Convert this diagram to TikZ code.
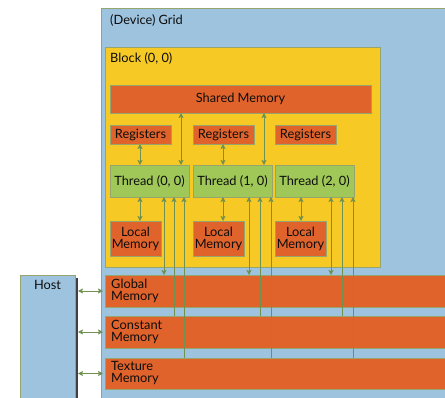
\documentclass[tikz,border=0pt]{standalone}
\usepackage{fontspec}
\setmainfont{Lato}
\usetikzlibrary{arrows.meta,calc}

\definecolor{gridblue}{RGB}{158,195,222}
\definecolor{blockyellow}{RGB}{247,201,37}
\definecolor{memorange}{RGB}{224,99,44}
\definecolor{threadgreen}{RGB}{160,200,88}
\definecolor{edgecol}{RGB}{150,165,110}
\definecolor{linkcol}{RGB}{112,145,80}

\tikzset{
  boxbase/.style={draw=edgecol, line width=0.8pt, inner sep=0pt, outer sep=0pt, anchor=north west},
  gridpanel/.style={boxbase, fill=gridblue},
  blockpanel/.style={boxbase, fill=blockyellow},
  membox/.style={boxbase, fill=memorange},
  threadbox/.style={boxbase, fill=threadgreen},
  lbl/.style={inner sep=0pt, text=black!95},
  twoway/.style={draw=linkcol, line width=0.9pt, {Stealth[length=5pt,width=5pt,inset=1pt]}-{Stealth[length=5pt,width=5pt,inset=1pt]}},
  oneway/.style={draw=linkcol, line width=0.9pt, -{Stealth[length=5pt,width=5pt,inset=1pt]}},
}

\begin{document}
\begin{tikzpicture}[x=1pt, y=-1pt, font=\fontsize{12.8}{12}\selectfont]
\useasboundingbox (0,0) rectangle (445,397);
\clip (0,0) rectangle (445,397);

% device grid and block
\node[gridpanel, minimum width=380, minimum height=400] (grid) at (101,8) {};
\node[lbl, anchor=base west] (gridlbl) at (110,24) {(Device) Grid};
\node[blockpanel, minimum width=275, minimum height=220] (block) at (105,47) {};
\node[lbl, anchor=base west] (blocklbl) at (110,62) {Block (0, 0)};

% shared memory
\node[membox, minimum width=261, minimum height=28] (sm) at (110,85) {};
\node[lbl] at (sm.center) {Shared Memory};

% registers, threads, local memories
\foreach \i/\x in {0/110, 1/193, 2/275} {
  \node[membox, minimum width=61, minimum height=19] (reg\i) at (\x,125) {};
  \node[lbl] at (reg\i.center) {Registers};
  \node[threadbox, minimum width=79, minimum height=32] (th\i) at (\x,165) {};
  \node[lbl] at (th\i.center) {Thread (\i, 0)};
  \node[membox, minimum width=51, minimum height=35] (loc\i) at (\x,221) {};
  \node[lbl, align=center] at (loc\i.center) {Local\\Memory};
}

% device memories
\node[membox, minimum width=360, minimum height=32] (gmem) at (105,275) {};
\node[lbl, anchor=west, align=left] at ([xshift=6pt]gmem.west) {Global\\Memory};
\node[membox, minimum width=360, minimum height=32] (cmem) at (105,316) {};
\node[lbl, anchor=west, align=left] at ([xshift=6pt]cmem.west) {Constant\\Memory};
\node[membox, minimum width=360, minimum height=31] (tmem) at (105,358) {};
\node[lbl, anchor=west, align=left] at ([xshift=6pt]tmem.west) {Texture\\Memory};

% host
\node[gridpanel, minimum width=55, minimum height=130] (host) at (20,275) {};
\node[lbl] at ([yshift=-10pt]host.north) {Host};
\node[inner sep=0pt, outer sep=0pt, fill=black!75, minimum width=2.5, minimum height=130, anchor=north west] (hostedge) at (75.5,278) {};

% host <-> device memories
\draw[twoway] (hostedge.east |- gmem.west) -- ([xshift=-2pt]gmem.west);
\draw[twoway] (hostedge.east |- cmem.west) -- ([xshift=-2pt]cmem.west);
\draw[twoway] (hostedge.east |- tmem.west) -- ([xshift=-2pt]tmem.west);

% registers <-> threads
\draw[twoway] ([xshift=30pt]reg0.south west) -- ([xshift=30pt]reg0.south west |- th0.north);
\draw[twoway] ([xshift=30pt]reg1.south west) -- ([xshift=30pt]reg1.south west |- th1.north);

% shared memory <-> threads
\draw[twoway] ([xshift=-8pt]th0.north east |- sm.south) -- ([xshift=-8pt]th0.north east);
\draw[twoway] ([xshift=-8pt]th1.north east |- sm.south) -- ([xshift=-8pt]th1.north east);

% threads <-> local memories
\draw[twoway] ([xshift=30pt]th0.south west) -- ([xshift=30pt]th0.south west |- loc0.north);
\draw[twoway] ([xshift=30pt]th1.south west) -- ([xshift=30pt]th1.south west |- loc1.north);
\draw[twoway] ([xshift=26pt]th2.south west) -- ([xshift=26pt]th2.south west |- loc2.north);

% threads <-> global, constant and texture memory
\foreach \i/\a/\b/\c in {0/54/64/74, 1/56/67/78, 2/56/67/78} {
  \draw[twoway] ([xshift=\a pt]th\i.south west) -- ([xshift=\a pt]th\i.south west |- gmem.north);
  \draw[oneway] ([xshift=\b pt]th\i.south west |- cmem.north) -- ([xshift=\b pt]th\i.south west);
  \draw[oneway] ([xshift=\c pt]th\i.south west |- tmem.north) -- ([xshift=\c pt]th\i.south west);
}
\end{tikzpicture}
\end{document}
